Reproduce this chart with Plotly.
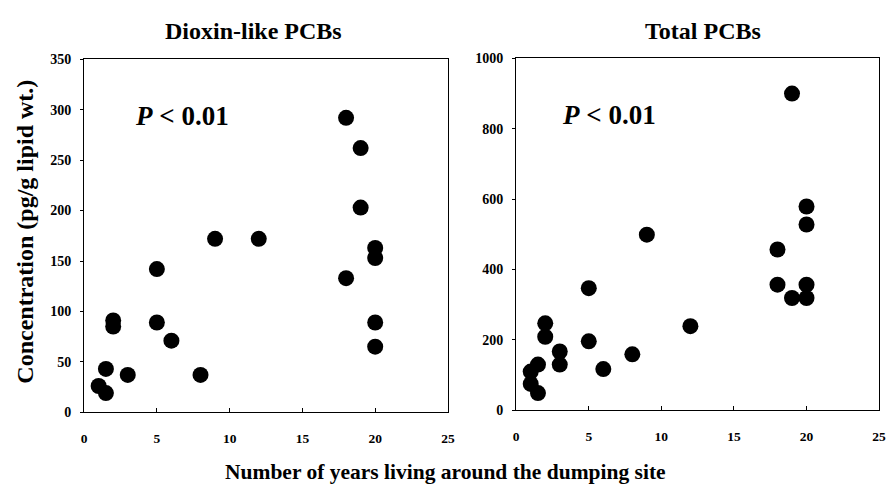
import plotly.graph_objects as go

# Dioxin-like PCBs (left panel)
dl_years = [18, 19, 19, 9, 12, 20, 20, 18, 5, 2, 2, 5, 6, 20, 20, 1.5, 3, 8, 1, 1.5]
dl_conc = [292, 262, 203, 172, 172, 163, 153, 133, 142, 91, 85, 89, 71, 89, 65, 43, 37, 37, 26, 19]

# Total PCBs (right panel)
tot_years = [19, 20, 20, 9, 18, 18, 20, 19, 20, 5, 12, 2, 2, 5, 3, 3, 8, 6, 1.5, 1, 1, 1.5]
tot_conc = [900, 579, 528, 499, 457, 357, 357, 319, 319, 347, 239, 247, 209, 196, 167, 130, 159, 117, 130, 110, 75, 49]

panel_titles = ["Dioxin-like PCBs", "Total PCBs"]
x_title = "Number of years living around the dumping site"
y_title = "Concentration (pg/g lipid wt.)"
p_text = "<i>P</i> < 0.01"

FONT = "Liberation Serif, Times New Roman, serif"

fig = go.Figure()
marker = dict(color="black", size=16, line=dict(width=0))
fig.add_trace(go.Scatter(x=dl_years, y=dl_conc, mode="markers", marker=marker,
                         xaxis="x", yaxis="y", showlegend=False))
fig.add_trace(go.Scatter(x=tot_years, y=tot_conc, mode="markers", marker=marker,
                         xaxis="x2", yaxis="y2", showlegend=False))

W, H = 895, 491
def px(x):
    return x / W
def py(y):
    return (H - y) / H

xcommon = dict(range=[0, 25], dtick=5, tick0=0, showgrid=False, zeroline=False,
               showline=True, linecolor="black", linewidth=1.2, mirror=True,
               ticks="inside", ticklen=4, tickwidth=1, tickcolor="black",
               ticklabelstandoff=13,
               tickfont=dict(family=FONT, size=13.5, color="black", weight="bold"))
ycommon = dict(showgrid=False, zeroline=False,
               showline=True, linecolor="black", linewidth=1.2, mirror=True,
               ticks="outside", ticklen=3, tickwidth=1, tickcolor="black",
               ticklabelstandoff=6,
               tickfont=dict(family=FONT, size=14, color="black", weight="bold"))

fig.update_layout(
    width=W, height=H, autosize=False,
    margin=dict(l=0, r=0, t=0, b=0),
    paper_bgcolor="white", plot_bgcolor="white",
    xaxis=dict(domain=[px(82), px(450)], anchor="y", **xcommon),
    yaxis=dict(domain=[py(418), py(54)], anchor="x", range=[0, 350], dtick=50, **ycommon),
    xaxis2=dict(domain=[px(519), px(886)], anchor="y2", **xcommon),
    yaxis2=dict(domain=[py(416), py(53)], anchor="x2", range=[0, 1000], dtick=200, **ycommon),
)

ann = []
ann.append(dict(text="<b>" + panel_titles[0] + "</b>", x=px(253), y=py(25), xref="paper", yref="paper",
                showarrow=False, xanchor="center", yanchor="middle",
                font=dict(family=FONT, size=24, color="black")))
ann.append(dict(text="<b>" + panel_titles[1] + "</b>", x=px(708), y=py(25), xref="paper", yref="paper",
                showarrow=False, xanchor="center", yanchor="middle",
                font=dict(family=FONT, size=24, color="black")))
ann.append(dict(text="<b>" + x_title + "</b>", x=px(447), y=py(480), xref="paper", yref="paper",
                showarrow=False, xanchor="center", yanchor="middle",
                font=dict(family=FONT, size=21.5, color="black")))
ann.append(dict(text="<b>" + y_title + "</b>", x=px(22), y=py(232), xref="paper", yref="paper",
                showarrow=False, xanchor="center", yanchor="middle", textangle=-90,
                font=dict(family=FONT, size=24, color="black")))
ann.append(dict(text="<b>" + p_text + "</b>", x=0.135, y=0.84, xref="x domain", yref="y domain",
                showarrow=False, xanchor="left", yanchor="middle",
                font=dict(family=FONT, size=27, color="black")))
ann.append(dict(text="<b>" + p_text + "</b>", x=0.12, y=0.84, xref="x2 domain", yref="y2 domain",
                showarrow=False, xanchor="left", yanchor="middle",
                font=dict(family=FONT, size=27, color="black")))
fig.update_layout(annotations=ann)

post = """
document.documentElement.style.margin='0';
document.documentElement.style.overflow='hidden';
document.body.style.margin='0';
document.body.style.overflow='hidden';
var gd = document.getElementById('{plot_id}');
gd.style.position='fixed'; gd.style.left='0px'; gd.style.top='0px';
"""

fig.write_html("out.html", config={"displayModeBar": False}, post_script=post)
